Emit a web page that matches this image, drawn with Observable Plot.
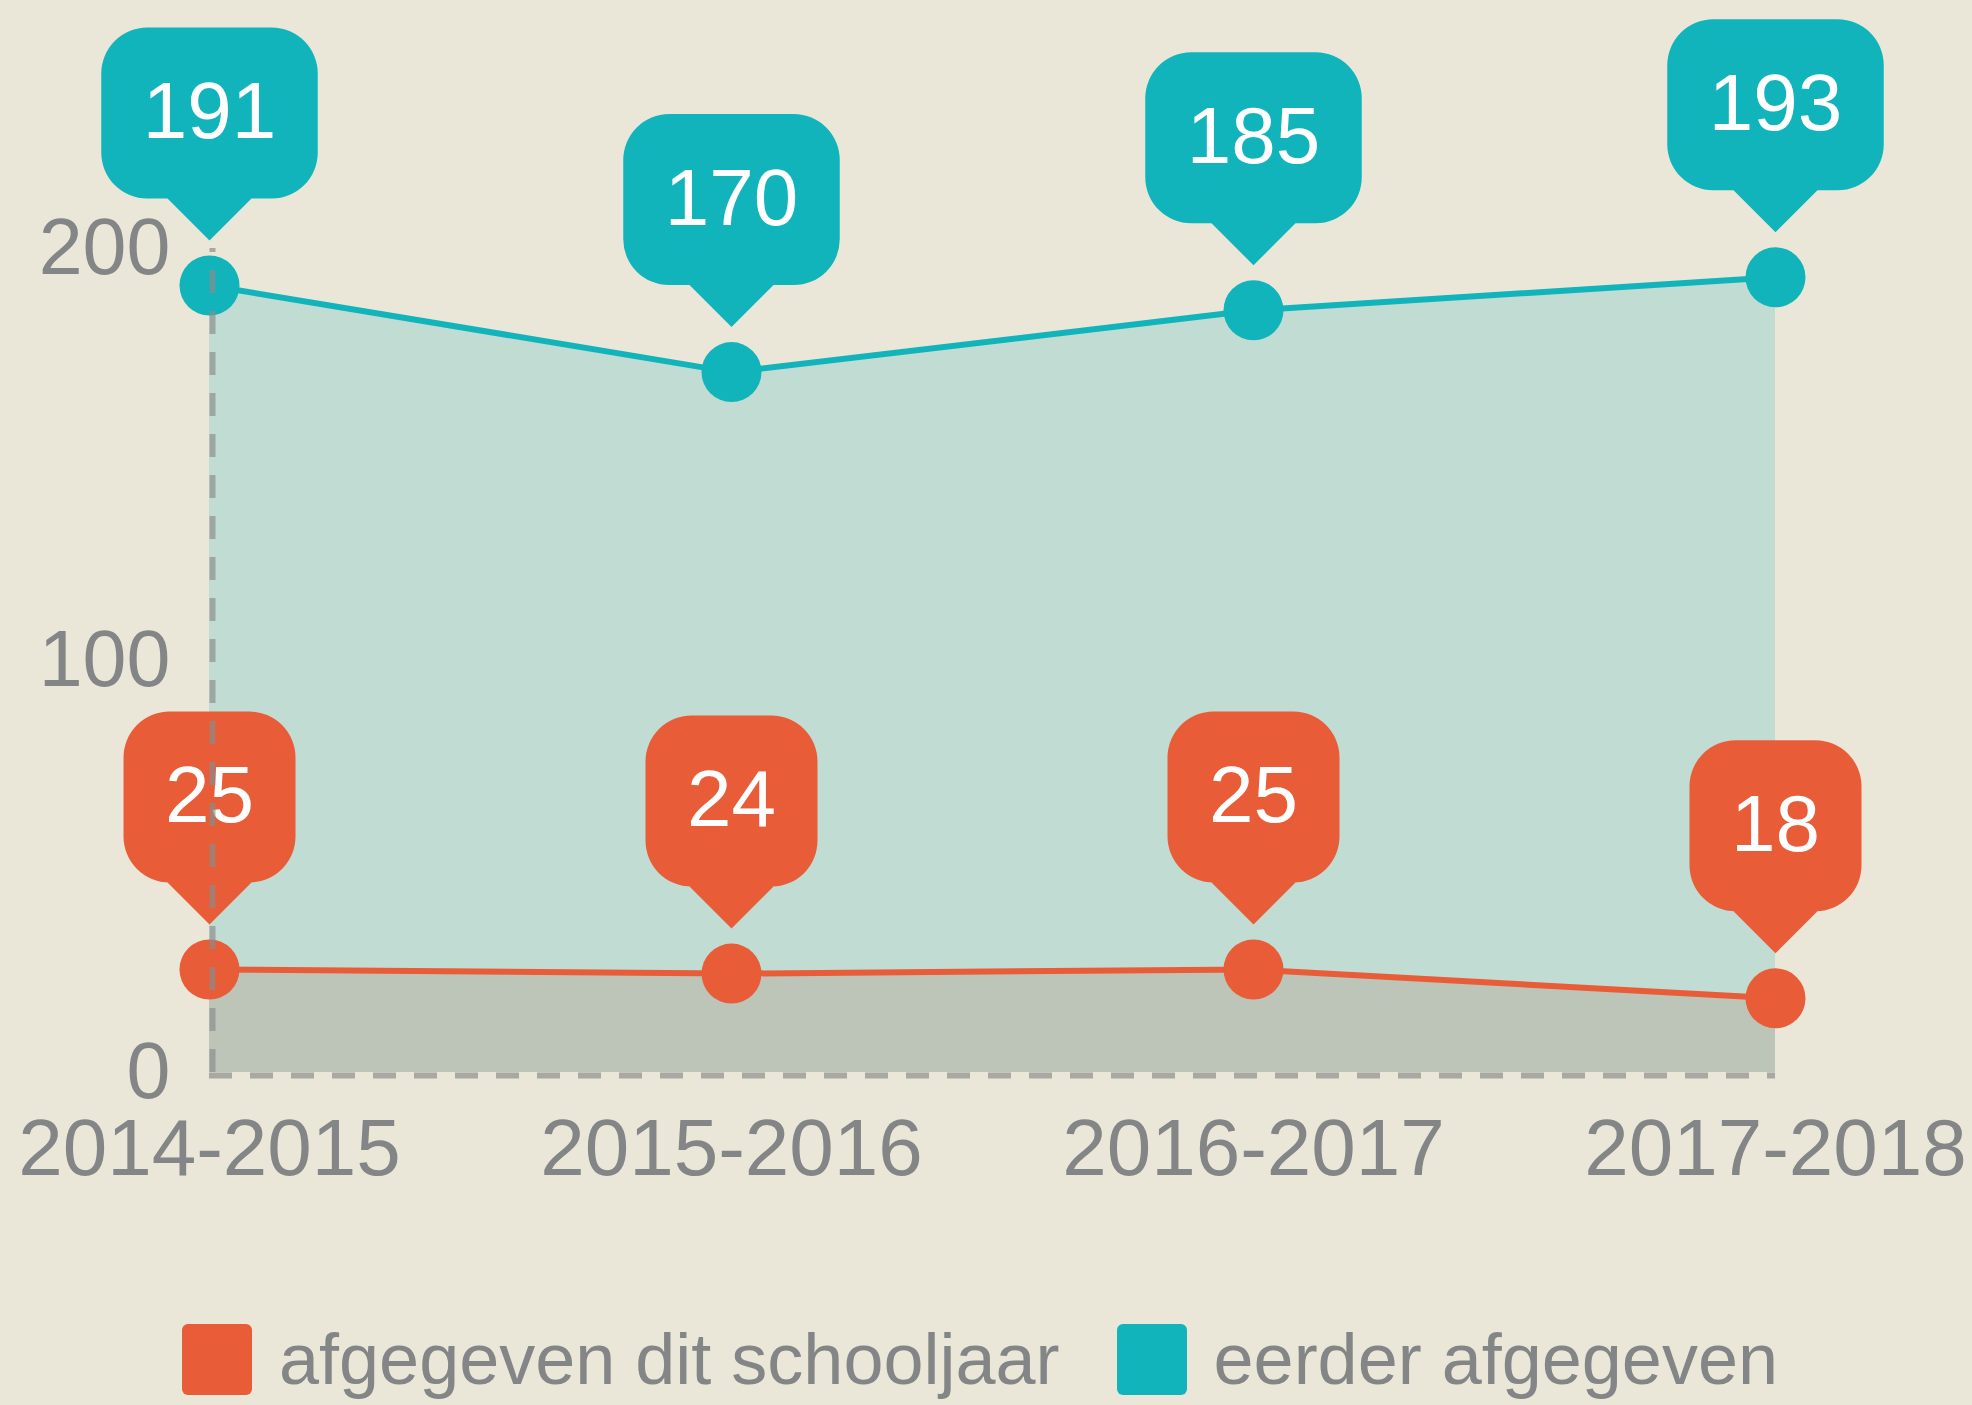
<!DOCTYPE html>
<html>
<head>
<meta charset="utf-8">
<script src="https://cdn.jsdelivr.net/npm/d3@7"></script>
<script src="https://cdn.jsdelivr.net/npm/@observablehq/plot@0.6"></script>
<style>
  html, body { margin: 0; padding: 0; background: #eae7d8; }
  body { width: 1972px; height: 1405px; overflow: hidden; font-family: "Liberation Sans", Arial, sans-serif; }
  #legend { display: flex; align-items: center; padding-left: 182px; margin-top: 83px; }
  .item { display: flex; align-items: center; margin-right: 57px; }
  .sw { width: 70px; height: 71px; border-radius: 6px; margin-right: 27px; }
  .lb { font-size: 72px; line-height: 72px; color: #838587; white-space: nowrap; }
</style>
</head>
<body>
<div id="chart"></div>
<div id="legend"></div>
<script>
// ---- data ----
const years = ["2014-2015", "2015-2016", "2016-2017", "2017-2018"];
const ditSchooljaar = [25, 24, 25, 18];
const eerderAfgegeven = [191, 170, 185, 193];
const seriesNames = ["afgegeven dit schooljaar", "eerder afgegeven"];
const yTicks = [0, 100, 200];

const colRed = "#e95c38";
const colTeal = "#11b4bb";

const rowsRed = years.map((y, i) => ({year: y, value: ditSchooljaar[i]}));
const rowsTeal = years.map((y, i) => ({year: y, value: eerderAfgegeven[i]}));
const baseline = [{y: 0, from: years[0], to: years[years.length - 1]}];

// speech-bubble symbol: tip sits 45px above the point
function bubble(w) {
  return {
    draw(ctx) {
      const h = w / 2, r = 46, tip = -45, base = -87, top = -258, tw = 42;
      ctx.moveTo(0, tip);
      ctx.lineTo(-tw, base);
      ctx.lineTo(-h + r, base);
      ctx.arcTo(-h, base, -h, base - r, r);
      ctx.lineTo(-h, top + r);
      ctx.arcTo(-h, top, -h + r, top, r);
      ctx.lineTo(h - r, top);
      ctx.arcTo(h, top, h, top + r, r);
      ctx.lineTo(h, base - r);
      ctx.arcTo(h, base, h - r, base, r);
      ctx.lineTo(tw, base);
      ctx.closePath();
    }
  };
}
const widthFor = arr => d3.max(arr, v => String(v).length) * 44.5 + 83;

const ruleStyle = {stroke: "#8a8c8a", strokeOpacity: 0.68, strokeWidth: 6, strokeDasharray: "23,18"};

const chart = Plot.plot({
  width: 1972,
  height: 1240,
  marginLeft: 209,
  marginRight: 197,
  marginTop: 248,
  marginBottom: 168,
  style: {background: "#eae7d8", color: "#838587", fontFamily: "'Liberation Sans', Arial, sans-serif", overflow: "visible"},
  x: {type: "point", domain: years, padding: 0},
  y: {domain: [0, 200]},
  marks: [
    Plot.areaY(rowsTeal, {x: "year", y1: 0, y2: "value", fill: "#c0dcd3"}),
    Plot.areaY(rowsRed, {x: "year", y1: 0, y2: "value", fill: "#bdc4b8"}),
    Plot.ruleY(baseline, {y: "y", x1: "from", x2: "to", dy: 3, ...ruleStyle}),
    Plot.line(rowsTeal, {x: "year", y: "value", stroke: colTeal, strokeWidth: 6}),
    Plot.line(rowsRed, {x: "year", y: "value", stroke: colRed, strokeWidth: 6}),
    Plot.dot(rowsTeal, {x: "year", y: "value", r: 30, fill: colTeal}),
    Plot.dot(rowsRed, {x: "year", y: "value", r: 30, fill: colRed}),
    Plot.dot(rowsTeal, {x: "year", y: "value", r: 1, symbol: bubble(widthFor(eerderAfgegeven)), fill: colTeal}),
    Plot.dot(rowsRed, {x: "year", y: "value", r: 1, symbol: bubble(widthFor(ditSchooljaar)), fill: colRed}),
    Plot.text(rowsTeal, {x: "year", y: "value", text: d => String(d.value), dy: -173, fill: "white", fontSize: 80}),
    Plot.text(rowsRed, {x: "year", y: "value", text: d => String(d.value), dy: -173, fill: "white", fontSize: 80}),
    Plot.axisY({ticks: yTicks, tickSize: 0, tickPadding: 39, fontSize: 79, fill: "#838587", label: null}),
    Plot.axisX({tickSize: 0, tickPadding: 46, fontSize: 80, fill: "#838587", label: null}),
    Plot.ruleX([years[0]], {y1: 0, y2: 200, dx: 3, ...ruleStyle})
  ]
});
document.getElementById("chart").appendChild(chart);

const legend = document.getElementById("legend");
[[seriesNames[0], colRed], [seriesNames[1], colTeal]].forEach(([name, c]) => {
  const it = document.createElement("div");
  it.className = "item";
  const sw = document.createElement("div");
  sw.className = "sw";
  sw.style.background = c;
  const lb = document.createElement("span");
  lb.className = "lb";
  lb.textContent = name;
  it.appendChild(sw);
  it.appendChild(lb);
  legend.appendChild(it);
});
</script>
</body>
</html>
